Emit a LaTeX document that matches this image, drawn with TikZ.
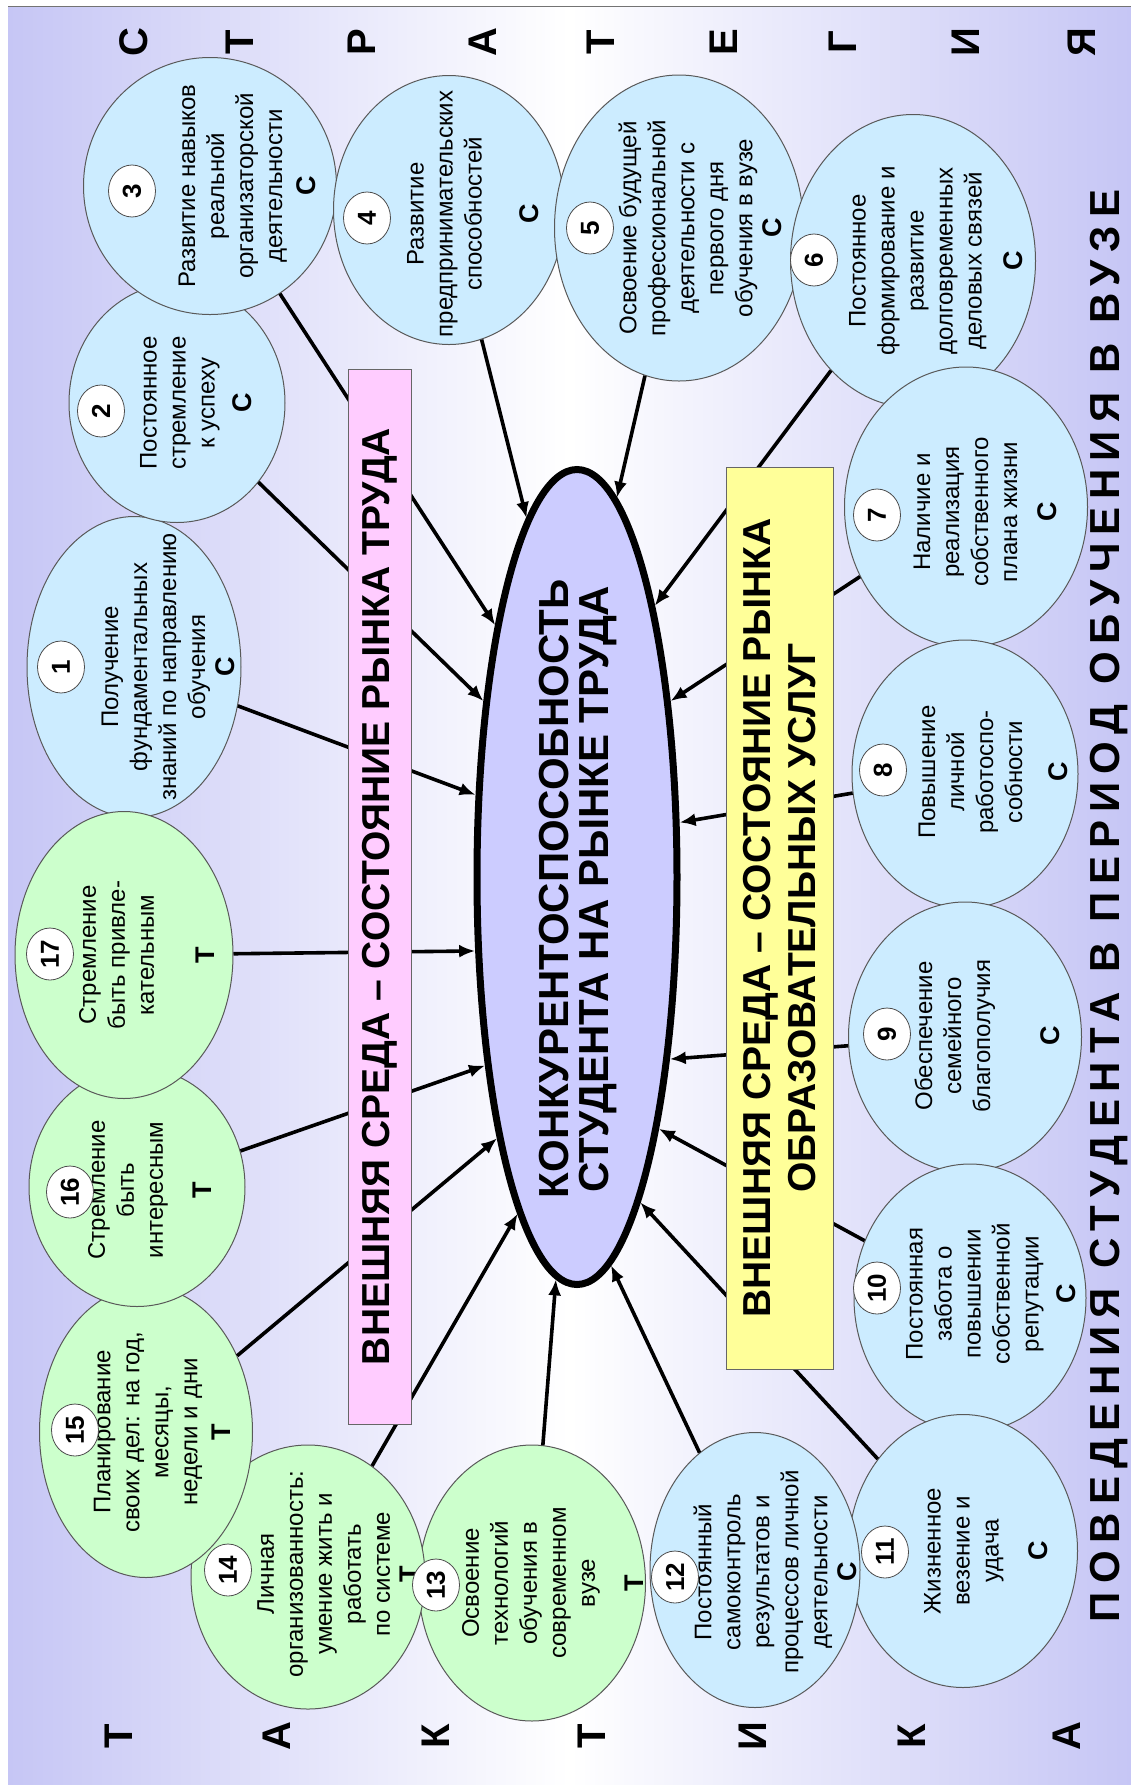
\documentclass[tikz,border=0pt]{standalone}
\usepackage{fontspec}
\setmainfont{Liberation Sans}
\usetikzlibrary{shapes.geometric, arrows.meta}

\definecolor{lav}{RGB}{198,198,245}
\definecolor{bluefill}{RGB}{204,236,255}
\definecolor{greenfill}{RGB}{204,255,204}
\definecolor{pinkfill}{RGB}{255,204,255}
\definecolor{yelfill}{RGB}{255,255,153}
\definecolor{corefill}{RGB}{204,204,255}
\newcommand{\crit}[1]{{\bfseries\fontsize{13.5}{14.5}\selectfont #1}}

\begin{document}
\begin{tikzpicture}[
  x=0.5pt, y=-0.5pt,
  bub/.style={ellipse, draw=black!65, line width=0.5pt, inner sep=0pt},
  bubS/.style={bub, fill=bluefill},
  bubT/.style={bub, fill=greenfill},
  lbl/.style={rotate=90, align=center, inner sep=0pt,
              font=\fontsize{12}{14.5}\selectfont},
  num/.style={ellipse, rotate=90, draw=black!70, fill=white, inner sep=0pt,
              minimum width=26pt, minimum height=23.5pt,
              font=\bfseries\fontsize{13}{13}\selectfont},
  ar/.style={-{Latex[length=8pt,width=6.5pt]}, line width=1.8pt},
  env/.style={rotate=90, draw=black!60, inner sep=0pt, align=center,
              font=\bfseries\fontsize{19.5}{22.5}\selectfont},
  bigl/.style={rotate=90, inner sep=0pt, font=\bfseries\fontsize{20}{20}\selectfont}
]
\useasboundingbox (0,0) rectangle (1131,1785);
% background
\fill[white] (0,0) rectangle (1131,1785);
\shade[left color=lav, right color=lav, middle color=white] (8,6) rectangle (1131,1785);
\draw[black!55] (8,6) -- (1131,6);

% strategy / tactics letters
\node[bigl] (s1) at (134,42)  {С};
\node[bigl] (s2) at (240,42)  {Т};
\node[bigl] (s3) at (362,42)  {Р};
\node[bigl] (s4) at (483,42)  {А};
\node[bigl] (s5) at (601,42)  {Т};
\node[bigl] (s6) at (724,42)  {Е};
\node[bigl] (s7) at (843,42)  {Г};
\node[bigl] (s8) at (966,42)  {И};
\node[bigl] (s9) at (1082,42) {Я};
\node[bigl] (k1) at (119,1736)  {Т};
\node[bigl] (k2) at (277,1736)  {А};
\node[bigl] (k3) at (436,1736)  {К};
\node[bigl] (k4) at (592,1736)  {Т};
\node[bigl] (k5) at (753,1736)  {И};
\node[bigl] (k6) at (912,1736)  {К};
\node[bigl] (k7) at (1067,1736) {А};
\node[rotate=90, inner sep=0pt,
      font=\bfseries\fontsize{21}{21}\selectfont\addfontfeature{LetterSpace=19}]
      (title) at (1109,906) {ПОВЕДЕНИЯ СТУДЕНТА В ПЕРИОД ОБУЧЕНИЯ В ВУЗЕ};

% factor bubbles
\node[bubS, minimum width=107pt,   minimum height=150.5pt] (e1)  at (134,667)  {};
\node[bubS, minimum width=108pt,   minimum height=119.5pt] (e2)  at (177,403)  {};
\node[bubS, minimum width=126.5pt, minimum height=128.5pt] (e3)  at (210,186)  {};
\node[bubS, minimum width=115.5pt, minimum height=134.5pt] (e4)  at (449,210)  {};
\node[bubS, minimum width=124.5pt, minimum height=153pt]   (e5)  at (679,228)  {};
\node[bubS, minimum width=122.5pt, minimum height=146.5pt] (e6)  at (913,261)  {};
\node[bubS, minimum width=121.5pt, minimum height=140pt]   (e7)  at (966,507)  {};
\node[bubS, minimum width=113pt,   minimum height=134pt]   (e8)  at (965,774)  {};
\node[bubS, minimum width=116.5pt, minimum height=135pt]   (e9)  at (965,1037) {};
\node[bubS, minimum width=116pt,   minimum height=134pt]   (e10) at (970,1298) {};
\node[bubS, minimum width=114.5pt, minimum height=136.5pt] (e11) at (963,1551) {};
\node[bubS, minimum width=105pt,   minimum height=137.5pt] (e12) at (755,1570) {};
\node[bubT, minimum width=113.5pt, minimum height=138pt]   (e13) at (532,1583) {};
\node[bubT, minimum width=117pt,   minimum height=132pt]   (e14) at (308,1577) {};
\node[bubT, minimum width=106.5pt, minimum height=145.5pt] (e15) at (146,1432) {};
\node[bubT, minimum width=108pt,   minimum height=119.5pt] (e16) at (137,1187) {};
\node[bubT, minimum width=109pt,   minimum height=143.5pt] (e17) at (124,955)  {};

% core
\node[ellipse, draw, line width=3.5pt, fill=corefill, inner sep=0pt,
      minimum width=100pt, minimum height=407.5pt] (c) at (577,877) {};
\node[rotate=90, align=center, inner sep=0pt,
      font=\bfseries\fontsize{21}{20}\selectfont] (ct) at (578,889)
      {КОНКУРЕНТОСПОСОБНОСТЬ\\СТУДЕНТА НА РЫНКЕ ТРУДА};

% arrows
\draw[ar] (e1)  -- (c.141);
\draw[ar] (e2)  -- (c.118);
\draw[ar] (e3)  -- (c.108);
\draw[ar] (e4)  -- (c.98);
\draw[ar] (e5)  -- (c.84);
\draw[ar] (e6)  -- (c.74);
\draw[ar] (e7)  -- (c.62);
\draw[ar] (e8)  -- (c.28);
\draw[ar] (e9)  -- (c.297);
\draw[ar] (e10) -- (c.288);
\draw[ar] (e11) -- (c.281);
\draw[ar] (e12) -- (c.275);
\draw[ar] (e13) -- (c.267);
\draw[ar] (e14) -- (c.260);
\draw[ar] (e15) -- (c.253);
\draw[ar] (e16) -- (c.244);
\draw[ar] (e17) -- (c.216);

% outer environment bars
\node[env, fill=pinkfill, minimum width=527.5pt, minimum height=31.5pt] (labour) at (379.5,896.5)
     {ВНЕШНЯЯ СРЕДА – СОСТОЯНИЕ РЫНКА ТРУДА};
\node[env, fill=yelfill, minimum width=451pt, minimum height=53.5pt] (educ) at (779.5,918)
     {ВНЕШНЯЯ СРЕДА – СОСТОЯНИЕ РЫНКА\\ОБРАЗОВАТЕЛЬНЫХ УСЛУГ};

% bubble texts
\node[lbl] (t1)  at (168,667)  {Получение\\фундаментальных\\знаний по направлению\\обучения\\\crit{С}};
\node[lbl] (t2)  at (196,403)  {Постоянное\\стремление\\к успеху\\[4pt]\crit{С}};
\node[lbl] (t3)  at (247,186)  {Развитие навыков\\реальной\\организаторской\\деятельности\\[2pt]\crit{С}};
\node[lbl] (t4)  at (473,214)  {Развитие\\предпринимательских\\способностей\\[14pt]\crit{С}};
\node[lbl] (t5)  at (700,228)  {Освоение будущей\\профессиональной\\деятельности с\\первого дня\\обучения в вузе\\[0pt]\crit{С}};
\node[lbl] (t6)  at (936,261)  {Постоянное\\формирование и\\развитие\\долговременных\\деловых связей\\[6pt]\crit{С}};
\node[lbl] (t7)  at (985,512)  {Наличие и\\реализация\\собственного\\плана жизни\\[5pt]\crit{С}};
\node[lbl] (t8)  at (993,772)  {Повышение\\личной\\работоспо-\\собности\\[8pt]\crit{С}};
\node[lbl] (t9)  at (987,1036) {Обеспечение\\семейного\\благополучия\\[20pt]\crit{С}};
\node[lbl] (t10) at (991,1294) {Постоянная\\забота о\\повышении\\собственной\\репутации\\[4pt]\crit{С}};
\node[lbl] (t11) at (986,1551) {Жизненное\\везение и\\удача\\[10pt]\crit{С}};
\node[lbl] (t12) at (775,1572) {Постоянный\\самоконтроль\\результатов и\\процессов личной\\деятельности\\\crit{С}};
\node[lbl] (t13) at (553,1583) {Освоение\\технологий\\обучения в\\современном\\вузе\\[10pt]\crit{Т}};
\node[lbl] (t14) at (338,1574) {Личная\\организованность:\\умение жить и\\работать\\по системе\\[0pt]\crit{Т}};
\node[lbl] (t15) at (162,1432) {Планирование\\своих дел: на год,\\месяцы,\\недели и дни\\[2pt]\crit{Т}};
\node[lbl] (t16) at (150,1190) {Стремление\\быть\\интересным\\[10pt]\crit{Т}};
\node[lbl] (t17) at (147,955)  {Стремление\\быть привле-\\кательным\\[16pt]\crit{Т}};

% number tags
\node[num] (n1)  at (61,667)   {1};
\node[num] (n2)  at (101,411)  {2};
\node[num] (n3)  at (132,191)  {3};
\node[num] (n4)  at (367,218)  {4};
\node[num] (n5)  at (590,228)  {5};
\node[num] (n6)  at (814,260)  {6};
\node[num] (n7)  at (877,515)  {7};
\node[num] (n8)  at (883,770)  {8};
\node[num] (n9)  at (887,1034) {9};
\node[num] (n10) at (877,1288) {10};
\node[num] (n11) at (885,1552) {11};
\node[num] (n12) at (675,1577) {12};
\node[num] (n13) at (436,1585) {13};
\node[num] (n14) at (228,1570) {14};
\node[num] (n15) at (75,1430)  {15};
\node[num] (n16) at (70,1192)  {16};
\node[num] (n17) at (50,954)   {17};
\end{tikzpicture}
\end{document}
